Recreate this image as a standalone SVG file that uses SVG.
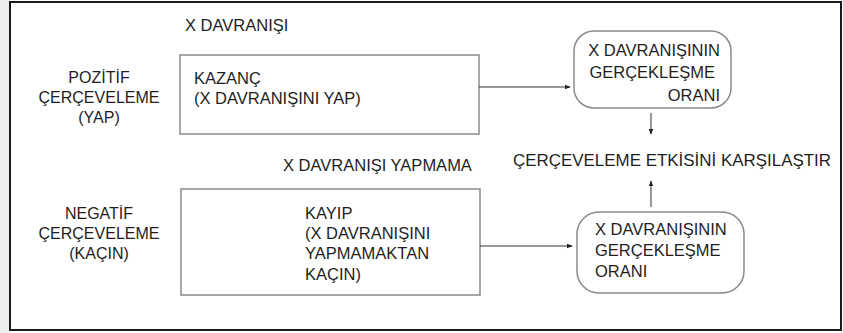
<svg xmlns="http://www.w3.org/2000/svg" width="843" height="333" viewBox="0 0 843 333">
  <defs>
    <marker id="arrowhead" viewBox="0 0 8 8" refX="7" refY="4" markerWidth="6" markerHeight="6" markerUnits="userSpaceOnUse" orient="auto">
      <path d="M0,1 L8,4 L0,7 Z" fill="#222"/>
    </marker>
  </defs>
  <style>
    text { font-family: "Liberation Sans", Arial, Helvetica, sans-serif; font-size: 16.5px; fill: #1e1e1e; }
    .side { font-size: 16px; text-anchor: middle; }
    .end { text-anchor: end; }
    .box { fill: #fff; stroke: #8a8a8a; stroke-width: 1.5; }
    .round { fill: #fff; stroke: #8a8a8a; stroke-width: 1.5; }
    .conn { fill: none; stroke: #333; stroke-width: 1; marker-end: url(#arrowhead); }
  </style>

  <!-- page margin and outer frame -->
  <rect x="0" y="0" width="843" height="333" fill="#fff"/>
  <rect x="0" y="0" width="9" height="333" fill="#ededed"/>
  <rect x="10" y="2" width="831" height="328" fill="#fff" stroke="#1a1a1a" stroke-width="2"/>

  <!-- column / row headings -->
  <g id="heading-behaviour">
    <text x="185" y="31">X DAVRANIŞI</text>
  </g>
  <g id="heading-not-behaviour">
    <text x="283" y="171">X DAVRANIŞI YAPMAMA</text>
  </g>

  <g id="label-positive">
    <text class="side" x="99" y="83">POZİTİF</text>
    <text class="side" x="99" y="103">ÇERÇEVELEME</text>
    <text class="side" x="99" y="123">(YAP)</text>
  </g>
  <g id="label-negative">
    <text class="side" x="99" y="219">NEGATİF</text>
    <text class="side" x="99" y="239">ÇERÇEVELEME</text>
    <text class="side" x="99" y="259">(KAÇIN)</text>
  </g>

  <!-- message boxes -->
  <g id="gain">
    <rect class="box" x="180" y="55" width="299" height="79"/>
    <text x="194" y="84">KAZANÇ</text>
    <text x="194" y="104">(X DAVRANIŞINI YAP)</text>
  </g>
  <g id="loss">
    <rect class="box" x="181" y="189" width="299" height="106"/>
    <text x="305" y="219">KAYIP</text>
    <text x="305" y="239">(X DAVRANIŞINI</text>
    <text x="305" y="259">YAPMAMAKTAN</text>
    <text x="305" y="280">KAÇIN)</text>
  </g>

  <!-- outcome boxes -->
  <g id="rate-positive">
    <rect class="round" x="574" y="31" width="157" height="77" rx="20" ry="20"/>
    <text class="end" x="720" y="56">X DAVRANIŞININ</text>
    <text class="end" x="715" y="78">GERÇEKLEŞME</text>
    <text class="end" x="720" y="101">ORANI</text>
  </g>
  <g id="rate-negative">
    <rect class="round" x="577" y="212" width="167" height="81" rx="22" ry="22"/>
    <text x="595" y="235">X DAVRANIŞININ</text>
    <text x="595" y="256">GERÇEKLEŞME</text>
    <text x="595" y="277">ORANI</text>
  </g>

  <g id="compare">
    <text x="513" y="166" textLength="318" lengthAdjust="spacingAndGlyphs">ÇERÇEVELEME ETKİSİNİ KARŞILAŞTIR</text>
  </g>

  <!-- connectors -->
  <g id="connectors">
    <line class="conn" x1="479" y1="87" x2="570" y2="87"/>
    <line class="conn" x1="480" y1="246" x2="572" y2="246"/>
    <line class="conn" x1="651" y1="113" x2="651" y2="134"/>
    <line class="conn" x1="651" y1="207" x2="651" y2="181"/>
  </g>
</svg>
